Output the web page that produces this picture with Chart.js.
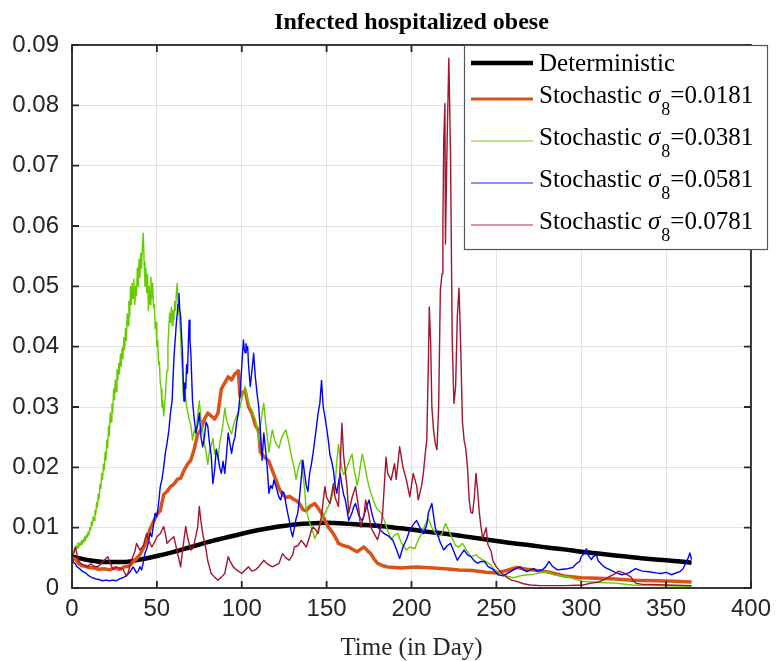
<!DOCTYPE html>
<html><head><meta charset="utf-8">
<script src="https://cdn.jsdelivr.net/npm/chart.js@4.4.0/dist/chart.umd.min.js"></script>
<style>html,body{margin:0;padding:0;background:#fff;}canvas{display:block;}</style>
</head><body>
<canvas id="c" width="779" height="661"></canvas>
<script>
const chartTitle = 'Infected hospitalized obese';
const xAxisTitle = 'Time (in Day)';
const xTickValues = [0,50,100,150,200,250,300,350,400];
const yTickValues = [0,0.01,0.02,0.03,0.04,0.05,0.06,0.07,0.08,0.09];
const yTickLabels = ['0','0.01','0.02','0.03','0.04','0.05','0.06','0.07','0.08','0.09'];
const seriesNames = ['Deterministic','Stochastic','Stochastic','Stochastic','Stochastic'];
const sigmaLabels = ['', '=0.0181', '=0.0381', '=0.0581', '=0.0781'];

const detDays = [0,10,20,30,40,50,60,70,80,90,100,110,120,130,140,150,160,170,180,190,200,210,220,230,240,250,260,270,280,290,300,310,320,330,340,350,365];
const detValues = [0.0052,0.0046,0.0043,0.0043,0.0047,0.0053,0.0060,0.0068,0.0076,0.0083,0.0090,0.0096,0.0101,0.0105,0.0107,0.0108,0.0107,0.0105,0.0103,0.0100,0.0097,0.0093,0.0090,0.0086,0.0082,0.0078,0.0074,0.0071,0.0067,0.0064,0.0060,0.0057,0.0054,0.0051,0.0048,0.0046,0.0042];

const s1Days = [0,2,4,6,8,10,13,16,19,22,25,28,31,34,37,40,42,44,46,48,50,52,54,56,58,60,62,64,66,68,70,72,74,76,78,80,82,84,86,88,90,92,94,96,98,99,100,102,104,106,108,110,111,113,116,118,120,122,124,126,128,130,132,134,136,138,140,143,145,147,149,151,153,155,157,160,163,166,168,170,172,174,176,178,180,183,186,190,194,198,203,208,213,220,228,236,244,250,256,262,268,274,280,290,300,310,320,330,344,355,365];
const s1Values = [0.0050,0.0048,0.0040,0.0037,0.0036,0.0034,0.0033,0.0031,0.0032,0.0030,0.0033,0.0031,0.0035,0.0037,0.0046,0.0055,0.0066,0.0078,0.0098,0.0110,0.0122,0.0128,0.0155,0.0160,0.0168,0.0172,0.0180,0.0182,0.0195,0.0205,0.0212,0.0230,0.0255,0.0262,0.0280,0.0290,0.0285,0.0280,0.0290,0.0330,0.0340,0.0350,0.0345,0.0355,0.0360,0.0318,0.0322,0.0328,0.0300,0.0290,0.0270,0.0260,0.0225,0.0218,0.0210,0.0195,0.0180,0.0165,0.0155,0.0150,0.0152,0.0148,0.0145,0.0140,0.0130,0.0128,0.0135,0.0140,0.0132,0.0124,0.0112,0.0101,0.0094,0.0085,0.0074,0.0070,0.0068,0.0063,0.0060,0.0064,0.0068,0.0062,0.0057,0.0048,0.0041,0.0037,0.0035,0.0034,0.0033,0.0034,0.0035,0.0034,0.0033,0.0032,0.0030,0.0029,0.0026,0.0025,0.0029,0.0034,0.0031,0.0029,0.0027,0.0020,0.0017,0.0016,0.0015,0.0013,0.0012,0.0011,0.0010];

const s2Days = [0,0.5,1,1.5,2,2.5,3,3.5,4,4.5,5,5.5,6,6.5,7,7.5,8,8.5,9,9.5,10,10.5,11,11.5,12,12.5,13,13.5,14,14.5,15,15.5,16,16.5,17,17.5,18,18.5,19,19.5,20,20.5,21,21.5,22,22.5,23,23.5,24,24.5,25,25.5,26,26.5,27,27.5,28,28.5,29,29.5,30,30.5,31,31.5,32,32.5,33,33.5,34,34.5,35,35.5,36,36.5,37,37.5,38,38.5,39,39.5,40,40.5,41,41.5,42,42.5,43,43.5,44,44.5,45,45.5,46,46.5,47,47.5,48,48.5,49,49.5,50,50.5,51,51.5,52,52.5,53,53.5,54,54.5,55,55.5,56,56.5,57,57.5,58,58.5,59,59.5,60,60.5,61,61.5,62,62.5,63,63.5,64,64.5,65,65.5,66,66.5,67,67.5,68,69,70,71,72,73,74,75,76,77,78,79,80,81,82,83,84,85,86,87,88,89,90,91,92,93,94,95,96,97,98,99,100,101,102,103,104,105,106,107,108,109,110,111,112,113,114,115,116,117,118,119,120,121,122,123,124,125,126,127,128,129,130,131,132,133,134,135,136,137,138,139,140,141,142,143,144,145,146,147,148,149,150,151,152,153,154,155,156,157,158,159,160,161,162,163,164,165,166,167,168,169,170,171,172,173,174,175,176,177,178,179,180,182,184,186,188,190,192,194,197,199,202,204,206,208,210,212,214,216,218,220,222,224,226,228,230,232,235,238,240,243,246,249,252,256,260,264,268,272,276,280,284,288,293,297,301,306,311,320,330,344,365];
const s2Values = [0.0055,0.0060,0.0058,0.0066,0.0062,0.0070,0.0066,0.0075,0.0068,0.0074,0.0071,0.0078,0.0072,0.0080,0.0076,0.0085,0.0079,0.0088,0.0084,0.0093,0.0088,0.0100,0.0096,0.0110,0.0104,0.0118,0.0112,0.0128,0.0122,0.0142,0.0134,0.0156,0.0148,0.0172,0.0165,0.0190,0.0180,0.0205,0.0196,0.0225,0.0212,0.0245,0.0232,0.0268,0.0252,0.0290,0.0275,0.0305,0.0290,0.0330,0.0312,0.0345,0.0325,0.0362,0.0345,0.0372,0.0355,0.0388,0.0368,0.0398,0.0380,0.0415,0.0395,0.0430,0.0410,0.0455,0.0435,0.0475,0.0450,0.0500,0.0470,0.0505,0.0480,0.0512,0.0470,0.0500,0.0485,0.0530,0.0500,0.0545,0.0515,0.0555,0.0530,0.0570,0.0588,0.0540,0.0500,0.0530,0.0490,0.0520,0.0460,0.0500,0.0470,0.0515,0.0480,0.0505,0.0465,0.0470,0.0430,0.0440,0.0400,0.0410,0.0370,0.0375,0.0340,0.0330,0.0300,0.0310,0.0285,0.0300,0.0320,0.0345,0.0360,0.0400,0.0430,0.0455,0.0440,0.0465,0.0435,0.0460,0.0445,0.0475,0.0460,0.0490,0.0505,0.0470,0.0455,0.0440,0.0420,0.0380,0.0360,0.0320,0.0310,0.0330,0.0315,0.0300,0.0295,0.0280,0.0270,0.0245,0.0262,0.0255,0.0285,0.0310,0.0280,0.0260,0.0240,0.0225,0.0205,0.0228,0.0235,0.0248,0.0222,0.0230,0.0212,0.0240,0.0255,0.0272,0.0298,0.0280,0.0270,0.0262,0.0255,0.0268,0.0278,0.0285,0.0292,0.0300,0.0312,0.0325,0.0334,0.0318,0.0308,0.0300,0.0295,0.0285,0.0280,0.0262,0.0245,0.0268,0.0290,0.0306,0.0275,0.0250,0.0225,0.0245,0.0262,0.0250,0.0240,0.0236,0.0232,0.0245,0.0252,0.0258,0.0262,0.0250,0.0238,0.0222,0.0210,0.0198,0.0180,0.0195,0.0205,0.0212,0.0190,0.0165,0.0130,0.0118,0.0108,0.0100,0.0092,0.0082,0.0088,0.0096,0.0105,0.0112,0.0118,0.0124,0.0130,0.0135,0.0142,0.0150,0.0160,0.0170,0.0210,0.0238,0.0215,0.0198,0.0188,0.0192,0.0200,0.0208,0.0215,0.0222,0.0200,0.0185,0.0170,0.0185,0.0205,0.0222,0.0210,0.0195,0.0180,0.0168,0.0158,0.0150,0.0142,0.0135,0.0130,0.0125,0.0112,0.0095,0.0080,0.0088,0.0090,0.0075,0.0063,0.0068,0.0065,0.0080,0.0090,0.0105,0.0115,0.0100,0.0092,0.0085,0.0090,0.0107,0.0095,0.0082,0.0070,0.0068,0.0074,0.0065,0.0052,0.0055,0.0050,0.0045,0.0040,0.0030,0.0025,0.0020,0.0017,0.0020,0.0022,0.0023,0.0025,0.0027,0.0022,0.0020,0.0018,0.0014,0.0011,0.0010,0.0009,0.0008,0.0005,0.0004,0.0003];

const s3Days = [0,1,2,3,4,6,8,10,12,14,16,18,20,22,24,26,28,30,32,34,36,37,38,39,40,41,42,43,44,45,46,47,48,49,50,51,52,53,54,55,56,57,58,59,60,60.5,61,61.5,62,62.5,63,63.5,64,64.5,65,65.5,66,66.5,67,67.5,68,68.5,69,69.5,70,70.5,71,72,73,74,75,76,77,78,79,80,81,82,83,84,85,86,87,88,89,90,91,92,93,94,95,96,97,98,99,100,100.5,101,101.5,102,102.5,103,103.5,104,105,106,107,108,109,110,111,112,113,114,115,116,117,118,119,120,121,122,123,124,125,126,127,128,129,130,131,132,133,134,135,136,137,138,139,140,141,142,143,144,145,146,147,148,149,150,151,152,153,154,155,156,157,158,159,160,161,162,163,164,165,166,167,168,169,170,171,172,173,174,175,176,177,178,180,182,184,187,189,191,193,195,197,199,201,203,205,207,209,210,212,214,217,219,221,223,225,227,229,231,233,235,237,239,241,243,245,248,251,254,257,260,262,264,266,268,270,272,274,277,279,281,283,286,289,292,295,297,299,300,302,303,304,306,307,309,310,312,314,317,320,324,328,332,336,340,344,347,350,353,355,358,360,362,363,364,365];
const s3Values = [0.0050,0.0042,0.0040,0.0035,0.0033,0.0028,0.0025,0.0020,0.0017,0.0015,0.0014,0.0012,0.0013,0.0012,0.0013,0.0012,0.0015,0.0017,0.0020,0.0026,0.0035,0.0030,0.0025,0.0028,0.0035,0.0030,0.0042,0.0058,0.0065,0.0075,0.0091,0.0085,0.0105,0.0124,0.0118,0.0140,0.0168,0.0180,0.0200,0.0224,0.0240,0.0260,0.0290,0.0311,0.0378,0.0400,0.0420,0.0440,0.0455,0.0470,0.0488,0.0460,0.0450,0.0420,0.0394,0.0350,0.0310,0.0340,0.0330,0.0370,0.0356,0.0400,0.0444,0.0410,0.0390,0.0350,0.0310,0.0280,0.0257,0.0270,0.0290,0.0250,0.0234,0.0250,0.0275,0.0268,0.0240,0.0220,0.0173,0.0195,0.0230,0.0218,0.0200,0.0190,0.0210,0.0190,0.0220,0.0257,0.0240,0.0223,0.0240,0.0250,0.0275,0.0290,0.0320,0.0367,0.0390,0.0411,0.0395,0.0390,0.0405,0.0395,0.0400,0.0370,0.0334,0.0360,0.0389,0.0350,0.0323,0.0300,0.0260,0.0212,0.0257,0.0230,0.0200,0.0157,0.0170,0.0165,0.0179,0.0170,0.0160,0.0150,0.0146,0.0160,0.0157,0.0140,0.0125,0.0112,0.0095,0.0085,0.0100,0.0115,0.0124,0.0150,0.0180,0.0212,0.0190,0.0170,0.0160,0.0190,0.0205,0.0223,0.0245,0.0267,0.0290,0.0306,0.0344,0.0300,0.0284,0.0265,0.0245,0.0220,0.0210,0.0195,0.0170,0.0157,0.0175,0.0190,0.0170,0.0155,0.0146,0.0130,0.0112,0.0118,0.0125,0.0135,0.0140,0.0130,0.0120,0.0115,0.0112,0.0120,0.0130,0.0138,0.0146,0.0132,0.0120,0.0110,0.0101,0.0095,0.0090,0.0085,0.0079,0.0065,0.0049,0.0068,0.0080,0.0096,0.0105,0.0112,0.0100,0.0090,0.0105,0.0125,0.0140,0.0100,0.0075,0.0063,0.0070,0.0074,0.0060,0.0046,0.0055,0.0063,0.0055,0.0052,0.0045,0.0041,0.0044,0.0044,0.0036,0.0031,0.0022,0.0020,0.0025,0.0030,0.0033,0.0035,0.0030,0.0027,0.0030,0.0032,0.0028,0.0030,0.0035,0.0044,0.0036,0.0030,0.0031,0.0032,0.0034,0.0040,0.0044,0.0052,0.0058,0.0065,0.0055,0.0047,0.0052,0.0055,0.0045,0.0039,0.0034,0.0030,0.0026,0.0022,0.0025,0.0032,0.0028,0.0027,0.0025,0.0024,0.0026,0.0022,0.0024,0.0027,0.0032,0.0044,0.0050,0.0058,0.0047,0.0052];

const s4Days = [0,1,2,3,4,5,7,9,11,13,15,17,19,21,22,24,26,28,30,32,33,35,37,38,40,42,44,45,47,49,50,52,54,55,56,58,60,62,64,65,67,68,70,71,72,74,75,76,77,79,80,82,84,86,88,90,92,93,95,97,100,102,104,106,108,110,113,115,118,120,122,124,126,128,130,131,133,135,137,138,140,141,142,144,145,147,149,150,152,154,155,157,159,160,162,163,165,167,169,170,172,173,175,176,178,180,182,183,185,186,188,190,191,193,195,197,199,201,203,204,206,207,208,209,210,210.5,211.3,212,213,214,215,216,217,218,218.5,219,219.7,220,221,222,222.5,223,224,225,226,227,228,229,230,231,232,233,234,235,236,237,238,239,240,241,242,244,245,247,248,250,253,256,259,262,266,270,276,281,290,301,306,310,313,316,320,322,325,329,332,336,340,350,365];
const s4Values = [0.0050,0.0058,0.0068,0.0055,0.0045,0.0041,0.0038,0.0035,0.0040,0.0036,0.0035,0.0040,0.0046,0.0052,0.0045,0.0031,0.0035,0.0033,0.0031,0.0020,0.0025,0.0046,0.0060,0.0074,0.0063,0.0070,0.0091,0.0080,0.0068,0.0078,0.0085,0.0090,0.0102,0.0090,0.0074,0.0080,0.0085,0.0060,0.0035,0.0060,0.0102,0.0085,0.0063,0.0065,0.0074,0.0100,0.0135,0.0110,0.0090,0.0063,0.0045,0.0024,0.0018,0.0013,0.0018,0.0024,0.0052,0.0045,0.0035,0.0030,0.0024,0.0030,0.0035,0.0028,0.0030,0.0035,0.0046,0.0040,0.0035,0.0038,0.0041,0.0057,0.0050,0.0046,0.0055,0.0068,0.0070,0.0079,0.0072,0.0068,0.0085,0.0096,0.0101,0.0095,0.0090,0.0120,0.0168,0.0150,0.0140,0.0173,0.0150,0.0135,0.0273,0.0220,0.0168,0.0124,0.0150,0.0168,0.0130,0.0101,0.0120,0.0146,0.0120,0.0101,0.0090,0.0080,0.0100,0.0124,0.0217,0.0190,0.0179,0.0206,0.0180,0.0234,0.0200,0.0179,0.0151,0.0190,0.0170,0.0146,0.0170,0.0190,0.0220,0.0245,0.0380,0.0466,0.0406,0.0300,0.0262,0.0240,0.0229,0.0300,0.0494,0.0521,0.0600,0.0742,0.0803,0.0570,0.0742,0.0878,0.0800,0.0715,0.0410,0.0306,0.0334,0.0450,0.0497,0.0400,0.0276,0.0245,0.0230,0.0200,0.0146,0.0125,0.0124,0.0150,0.0190,0.0160,0.0124,0.0100,0.0082,0.0100,0.0072,0.0060,0.0045,0.0035,0.0025,0.0018,0.0013,0.0011,0.0007,0.0005,0.0004,0.0004,0.0004,0.0005,0.0008,0.0010,0.0013,0.0018,0.0024,0.0028,0.0025,0.0019,0.0008,0.0006,0.0006,0.0005,0.0004];

const seriesColors = ['#000000','#D95319','#66CC00','#0000FF','#A2142F'];
const seriesWidths = [4.5,3.5,1.4,1.4,1.4];

function pts(days, vals){ return days.map((d,i)=>({x:d, y:vals[i]})); }

const allDays = [detDays,s1Days,s2Days,s3Days,s4Days];
const allVals = [detValues,s1Values,s2Values,s3Values,s4Values];
const datasets = allDays.map((d,i)=>({
  label: seriesNames[i] + (sigmaLabels[i] ? ' σ8' + sigmaLabels[i] : ''),
  data: pts(d, allVals[i]),
  borderColor: seriesColors[i],
  backgroundColor: seriesColors[i],
  borderWidth: seriesWidths[i],
  pointRadius: 0,
  tension: i===0 ? 0.4 : 0,
  cubicInterpolationMode: i===0 ? 'monotone' : 'default',
  borderJoinStyle: 'round',
  order: 4 - i,
  fill: false
}));

const AX = '#262626';
const SERIF = '"Liberation Serif", "Times New Roman", serif';
const SANS = '"Liberation Sans", Arial, sans-serif';
const boxPlugin = {
  id: 'boxTicks',
  afterDatasetsDraw(chart){
    const {ctx, chartArea:a, scales:{x, y}} = chart;
    ctx.save();
    ctx.strokeStyle = AX; ctx.lineWidth = 1.8;
    ctx.strokeRect(a.left, a.top, a.right - a.left, a.bottom - a.top);
    ctx.beginPath();
    x.ticks.forEach(t => { const p = x.getPixelForValue(t.value);
      ctx.moveTo(p, a.bottom); ctx.lineTo(p, a.bottom - 7);
      ctx.moveTo(p, a.top); ctx.lineTo(p, a.top + 7); });
    y.ticks.forEach(t => { const p = y.getPixelForValue(t.value);
      ctx.moveTo(a.left, p); ctx.lineTo(a.left + 7, p);
      ctx.moveTo(a.right, p); ctx.lineTo(a.right - 7, p); });
    ctx.stroke();
    ctx.restore();
  }
};

const legendPlugin = {
  id: 'matlabLegend',
  afterDraw(chart){
    const ctx = chart.ctx;
    const bx = 464, by = 45, bw = 303, bh = 204;
    ctx.save();
    ctx.fillStyle = '#fff';
    ctx.fillRect(bx, by, bw, bh);
    ctx.strokeStyle = '#555'; ctx.lineWidth = 1.2;
    ctx.strokeRect(bx + 0.5, by + 0.5, bw, bh);
    const rows = [63, 99, 141, 183, 225];
    const fs = 25;
    rows.forEach((ry, i) => {
      ctx.beginPath();
      ctx.strokeStyle = seriesColors[i];
      ctx.globalAlpha = i >= 2 ? 0.6 : 1;
      ctx.lineWidth = i === 0 ? 4.5 : (i === 1 ? 3 : 1.6);
      ctx.moveTo(471, ry); ctx.lineTo(533, ry); ctx.stroke();
      ctx.globalAlpha = 1;
      ctx.fillStyle = '#000';
      ctx.textBaseline = 'alphabetic';
      let tx = 539;
      const base = i === 0 ? ry + 8 : ry + 4;
      ctx.font = fs + 'px ' + SERIF;
      const main = seriesNames[i] + (i > 0 ? ' ' : '');
      ctx.fillText(main, tx, base);
      tx += ctx.measureText(main).width;
      if (i > 0) {
        ctx.font = 'italic ' + fs + 'px ' + SERIF;
        ctx.fillText('σ', tx, base);
        tx += ctx.measureText('σ').width + 1;
        ctx.font = '18px ' + SERIF;
        ctx.fillText('8', tx, base + 12);
        tx += ctx.measureText('8').width;
        ctx.font = fs + 'px ' + SERIF;
        ctx.fillText(sigmaLabels[i], tx, base);
      }
    });
    ctx.restore();
  }
};

new Chart(document.getElementById('c'), {
  type: 'line',
  data: { datasets },
  options: {
    responsive: false,
    animation: false,
    devicePixelRatio: 1,
    layout: { padding: { left: 0, right: 23, top: 0, bottom: 0 } },
    plugins: {
      legend: { display: false },
      tooltip: { enabled: false },
      title: {
        display: true, text: chartTitle, color: '#000', fullSize: false,
        font: { family: SERIF, size: 24, weight: 'bold', lineHeight: 1.2 },
        padding: { top: 8, bottom: 8.2 }
      }
    },
    scales: {
      x: {
        type: 'linear', min: 0, max: 400,
        afterBuildTicks(s){ s.ticks = xTickValues.map(v => ({value: v})); },
        afterFit(s){ s.height = 73; },
        grid: { color: 'rgba(0,0,0,0.11)', lineWidth: 1, drawTicks: false },
        border: { display: false },
        ticks: { color: AX, padding: 8, maxRotation: 0, autoSkip: false,
          font: { family: SANS, size: 24, lineHeight: 1.1 } },
        title: { display: true, text: xAxisTitle, color: AX,
          font: { family: SERIF, size: 25, lineHeight: 1 },
          padding: { top: 0, bottom: 0 } }
      },
      y: {
        type: 'linear', min: 0, max: 0.09,
        afterBuildTicks(s){ s.ticks = yTickValues.map(v => ({value: v})); },
        afterFit(s){ s.width = 72; },
        grid: { color: 'rgba(0,0,0,0.11)', lineWidth: 1, drawTicks: false },
        border: { display: false },
        ticks: { color: AX, padding: 13, autoSkip: false,
          callback: (v) => { const k = yTickValues.findIndex(t => Math.abs(t - v) < 1e-9); return k >= 0 ? yTickLabels[k] : ''; },
          font: { family: SANS, size: 24 } }
      }
    }
  },
  plugins: [boxPlugin, legendPlugin]
});
</script>
</body></html>
